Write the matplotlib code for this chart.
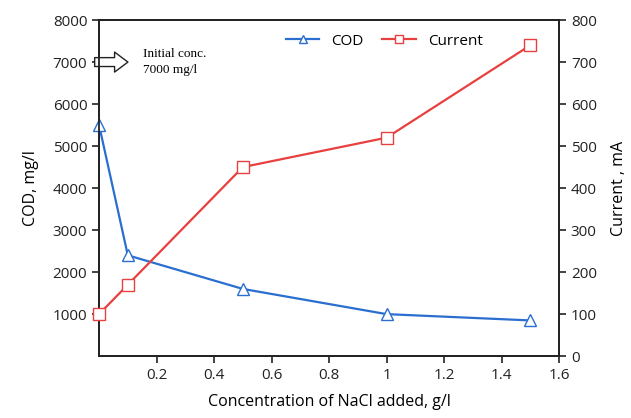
import matplotlib.pyplot as plt

plt.rcParams['font.family'] = ['Open Sans', 'DejaVu Sans']

# data
nacl = [0.0, 0.1, 0.5, 1.0, 1.5]
cod = [5500, 2400, 1600, 1000, 850]
current = [100, 170, 450, 520, 740]

blue = '#2a6fd0'
red = '#e8403f'

fig = plt.figure(figsize=(6.31, 4.18), dpi=100)
ax = fig.add_axes([0.157, 0.148, 0.729, 0.804])
ax2 = ax.twinx()

l1, = ax.plot(nacl, cod, color=blue, lw=1.6, marker='^', ms=8,
              mfc='white', mec=blue, mew=1.0, label='COD', clip_on=False, zorder=4)
l2, = ax2.plot(nacl, current, color=red, lw=1.6, marker='s', ms=8,
               mfc='white', mec=red, mew=1.0, label='Current', clip_on=False, zorder=4)

ax.set_xlim(0, 1.6)
ax.set_ylim(0, 8000)
ax2.set_ylim(0, 800)
ax.set_xticks([0.2, 0.4, 0.6, 0.8, 1.0, 1.2, 1.4, 1.6])
ax.set_xticklabels(['0.2', '0.4', '0.6', '0.8', '1', '1.2', '1.4', '1.6'])
ax.set_yticks(range(1000, 8001, 1000))
ax2.set_yticks(range(0, 801, 100))

for a in (ax, ax2):
    for s in a.spines.values():
        s.set_linewidth(1.3)
        s.set_color('#222222')
    a.tick_params(direction='out', length=5, width=1.2, labelsize=11,
                  colors='#222222')

ax.set_xlabel('Concentration of NaCl added, g/l', fontsize=11.5, labelpad=8)
ax.set_ylabel('COD, mg/l', fontsize=11.5, labelpad=10)
ax2.set_ylabel('Current , mA', fontsize=11.5, labelpad=10)

ax.legend(handles=[l1, l2], loc='upper center', bbox_to_anchor=(0.62, 1.0),
          ncol=2, frameon=False, fontsize=11, handlelength=2.2,
          columnspacing=1.2, markerscale=0.8)

ax.annotate('', xy=(0.11, 7000), xytext=(-0.025, 7000),
            arrowprops=dict(arrowstyle='simple,head_width=0.9,head_length=0.6,tail_width=0.4',
                            fc='white', ec='#222222', lw=1.0, mutation_scale=16),
            annotation_clip=False, zorder=5)
ax.text(0.152, 7000, 'Initial conc.\n7000 mg/l', fontsize=9.5,
        family='Liberation Serif', va='center', ha='left', linespacing=1.5)

fig.savefig('out.png', dpi=100)
